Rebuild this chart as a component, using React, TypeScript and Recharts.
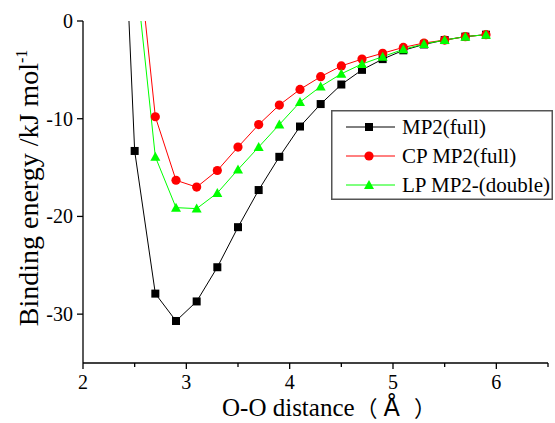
import React from "react";
import { LineChart, Line, XAxis, YAxis, Legend, Label } from "recharts";

const distances = [2.3, 2.5, 2.7, 2.9, 3.1, 3.3, 3.5, 3.7, 3.9, 4.1, 4.3, 4.5, 4.7, 4.9, 5.1, 5.3, 5.5, 5.7, 5.9];
const mp2Full = [35, -13.3, -27.9, -30.7, -28.7, -25.2, -21.1, -17.3, -13.9, -10.8, -8.5, -6.5, -5.0, -3.9, -3.0, -2.4, -1.95, -1.6, -1.4];
const cpMp2Full = [null, 10.5, -9.8, -16.3, -17.0, -15.3, -12.9, -10.6, -8.6, -7.0, -5.7, -4.6, -3.9, -3.3, -2.7, -2.25, -1.95, -1.6, -1.4];
const lpMp2Double = [null, 6.1, -13.9, -19.1, -19.2, -17.6, -15.2, -12.9, -10.6, -8.3, -6.7, -5.4, -4.4, -3.65, -2.9, -2.35, -1.95, -1.6, -1.4];

const xTicks = [2, 2.5, 3, 3.5, 4, 4.5, 5, 5.5, 6, 6.5];
const yTicks = [0, -10, -20, -30];

const SERIF = '"Liberation Serif", "DejaVu Serif", serif';
const CJK = '"Noto Sans CJK SC", sans-serif';
const SANS = '"DejaVu Sans", sans-serif';

const data = distances.map((d, i) => ({
  d,
  mp2: mp2Full[i],
  cp: cpMp2Full[i],
  lp: lpMp2Double[i],
}));

type Shape = "square" | "circle" | "triangle";

const Marker = ({ cx, cy, shape, color }: { cx: number; cy: number; shape: Shape; color: string }) => {
  if (shape === "square") return <rect x={cx - 4} y={cy - 4} width={8} height={8} fill={color} />;
  if (shape === "circle") return <circle cx={cx} cy={cy} r={4.6} fill={color} />;
  return <polygon points={`${cx},${cy - 5} ${cx + 5},${cy + 4} ${cx - 5},${cy + 4}`} fill={color} />;
};

const makeDot = (shape: Shape, color: string) => (props: any) => {
  const { cx, cy, index } = props;
  if (cx == null || cy == null || props.value == null) return <g key={`${shape}-${index}`} />;
  return (
    <g key={`${shape}-${index}`}>
      <Marker cx={cx} cy={cy} shape={shape} color={color} />
    </g>
  );
};

const XTick = (props: any) => {
  const { x, y, payload } = props;
  const major = Number.isInteger(payload.value);
  return (
    <g>
      <line x1={x} x2={x} y1={y} y2={y + (major ? 6 : 4)} stroke="#000" strokeWidth={1.3} />
      {major && (
        <text x={x} y={y + 26} textAnchor="middle" style={{ fontFamily: SERIF, fontSize: 20 }} fill="#000">
          {payload.value}
        </text>
      )}
    </g>
  );
};

const YTick = (props: any) => {
  const { x, y, payload } = props;
  return (
    <g>
      <line x1={x} x2={x - 6} y1={y} y2={y} stroke="#000" strokeWidth={1.3} />
      <text x={x - 10} y={y + 7} textAnchor="end" style={{ fontFamily: SERIF, fontSize: 20 }} fill="#000">
        {payload.value}
      </text>
    </g>
  );
};

const seriesOrder = ["mp2", "cp", "lp"];
const seriesStyle: Record<string, { shape: Shape; color: string }> = {
  mp2: { shape: "square", color: "#000000" },
  cp: { shape: "circle", color: "#ff0000" },
  lp: { shape: "triangle", color: "#00ff00" },
};

const LegendBox = (props: any) => {
  const items = props.payload || [];
  const ordered = seriesOrder
    .map((k) => items.find((it: any) => it.dataKey === k))
    .filter(Boolean);
  return (
    <svg width={222} height={90} style={{ display: "block" }}>
      <rect x={0.75} y={0.75} width={220.5} height={88.5} fill="#fff" stroke="#555" strokeWidth={1.5} />
      {ordered.map((it: any, i: number) => {
        const st = seriesStyle[it.dataKey];
        const cy = 17 + i * 29;
        return (
          <g key={it.dataKey}>
            <line x1={15} x2={64} y1={cy} y2={cy} stroke={st.color} strokeWidth={1} />
            <Marker cx={38} cy={cy} shape={st.shape} color={st.color} />
            <text x={71} y={cy + 7} style={{ fontFamily: SERIF, fontSize: 21 }} fill="#000">
              {it.value}
            </text>
          </g>
        );
      })}
    </svg>
  );
};

const YLabel = (props: any) => {
  const vb = props.viewBox || { x: 83, y: 21, height: 342 };
  const cx = vb.x - 44;
  const cy = vb.y + vb.height / 2 - 4;
  return (
    <text
      x={cx}
      y={cy}
      transform={`rotate(-90 ${cx} ${cy})`}
      textAnchor="middle"
      style={{ fontFamily: SERIF, fontSize: 28 }}
      fill="#000"
    >
      Binding energy /kJ mol
      <tspan style={{ fontSize: 16 }} dy={-11}>-1</tspan>
    </text>
  );
};

const XLabel = (props: any) => {
  const vb = props.viewBox || { x: 83, y: 363, width: 465 };
  const x0 = vb.x + 139;
  const y0 = vb.y + 53;
  return (
    <text x={x0} y={y0} textAnchor="start" style={{ fontFamily: SERIF, fontSize: 25 }} fill="#000">
      O-O distance
      <tspan style={{ fontFamily: CJK, fontSize: 22 }} dx={1}>（</tspan>
      <tspan style={{ fontFamily: SANS, fontSize: 24, fontWeight: 500 }} dx={6}>Å</tspan>
      <tspan style={{ fontFamily: CJK, fontSize: 22 }} dx={14}>）</tspan>
    </text>
  );
};

export default function App() {
  return (
    <div style={{ position: "absolute", left: 0, top: 0, width: 555, height: 423, background: "#fff" }}>
      <LineChart width={555} height={423} data={data} margin={{ top: 21, right: 7, left: 82, bottom: 59 }}>
        <XAxis
          dataKey="d"
          type="number"
          domain={[2, 6.5]}
          ticks={xTicks}
          interval={0}
          height={1}
          tickSize={0}
          tickMargin={0}
          tickLine={false}
          tick={<XTick />}
          axisLine={{ stroke: "#000", strokeWidth: 1.3 }}
          allowDataOverflow
        >
          <Label content={<XLabel />} />
        </XAxis>
        <YAxis
          type="number"
          domain={[-35, 0]}
          ticks={yTicks}
          interval={0}
          width={1}
          tickSize={0}
          tickMargin={0}
          tickLine={false}
          tick={<YTick />}
          axisLine={{ stroke: "#000", strokeWidth: 1.3 }}
          allowDataOverflow
        >
          <Label content={<YLabel />} />
        </YAxis>
        <Legend
          layout="horizontal"
          verticalAlign="middle"
          align="center"
          content={<LegendBox />}
          wrapperStyle={{ left: 331, top: 110, width: 222, height: 90 }}
        />
        <Line
          dataKey="mp2"
          name="MP2(full)"
          type="linear"
          stroke="#000000"
          strokeWidth={1}
          dot={makeDot("square", "#000000")}
          isAnimationActive={false}
        />
        <Line
          dataKey="cp"
          name="CP MP2(full)"
          type="linear"
          stroke="#ff0000"
          strokeWidth={1}
          dot={makeDot("circle", "#ff0000")}
          isAnimationActive={false}
        />
        <Line
          dataKey="lp"
          name="LP MP2-(double)"
          type="linear"
          stroke="#00ff00"
          strokeWidth={1}
          dot={makeDot("triangle", "#00ff00")}
          isAnimationActive={false}
        />
      </LineChart>
    </div>
  );
}
